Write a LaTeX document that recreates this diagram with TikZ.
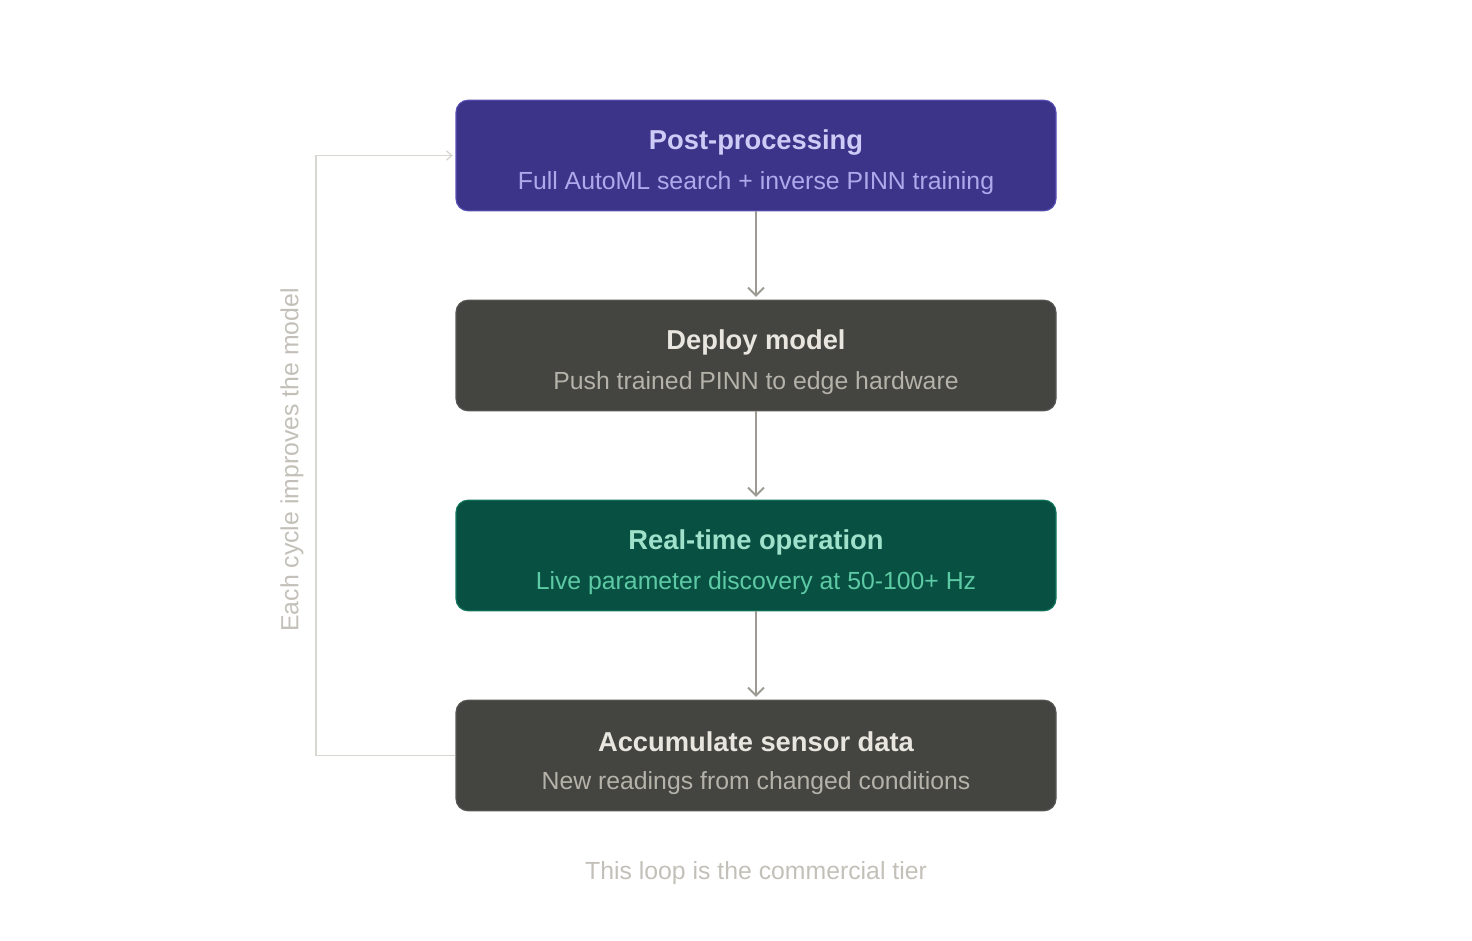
\documentclass[tikz,border=0pt]{standalone}
\usepackage{fontspec}
\setmainfont{Liberation Sans}
\usetikzlibrary{arrows.meta}
\definecolor{pfill}{HTML}{3C3489}
\definecolor{pdraw}{HTML}{5A52B8}
\definecolor{ptitle}{HTML}{CECBF6}
\definecolor{psub}{HTML}{AFA9EC}
\definecolor{dfill}{HTML}{444441}
\definecolor{ddraw}{HTML}{5A5955}
\definecolor{dtitle}{HTML}{E8E6DF}
\definecolor{dsub}{HTML}{B4B2A9}
\definecolor{gfill}{HTML}{085041}
\definecolor{gdraw}{HTML}{137A5F}
\definecolor{gtitle}{HTML}{9FE1CB}
\definecolor{gsub}{HTML}{5DCAA5}
\definecolor{arrowc}{HTML}{9C9A92}
\definecolor{loopc}{HTML}{D8D6D0}
\definecolor{notec}{HTML}{C2C0B8}
\tikzset{
  stagebox/.style={rounded corners=9pt, minimum width=450pt, minimum height=83pt, line width=0.8pt, inner sep=0pt},
  ttl/.style={font=\fontsize{20.5}{23}\selectfont\bfseries},
  sub/.style={font=\fontsize{18.6}{21}\selectfont},
  flow/.style={draw=arrowc, line width=1.5pt, -{Straight Barb[length=6pt,width=12pt,line width=1.5pt]}},
  loopline/.style={draw=loopc, line width=1.2pt, -{Straight Barb[length=4pt,width=7pt,line width=1pt]}},
}
\begin{document}
\begin{tikzpicture}[x=0.75pt,y=-0.75pt]
\useasboundingbox (0,0) rectangle (1472,940);
\node[stagebox, fill=pfill, draw=pdraw] (b1) at (756,155.5) {};
\node[stagebox, fill=dfill, draw=ddraw] (b2) at (756,355.5) {};
\node[stagebox, fill=gfill, draw=gdraw] (b3) at (756,555.5) {};
\node[stagebox, fill=dfill, draw=ddraw] (b4) at (756,755.5) {};
\node[ttl, text=ptitle] (t1) at (756,142) {Post-processing};
\node[sub, text=psub] (s1) at (756,183) {Full AutoML search + inverse PINN training};
\node[ttl, text=dtitle] (t2) at (756,342) {Deploy model};
\node[sub, text=dsub] (s2) at (756,383) {Push trained PINN to edge hardware};
\node[ttl, text=gtitle] (t3) at (756,542) {Real-time operation};
\node[sub, text=gsub] (s3) at (756,583) {Live parameter discovery at 50-100+ Hz};
\node[ttl, text=dtitle] (t4) at (756,742) {Accumulate sensor data};
\node[sub, text=dsub] (s4) at (756,783) {New readings from changed conditions};
\draw[flow] (b1.south) -- ([yshift=2pt]b2.north);
\draw[flow] (b2.south) -- ([yshift=2pt]b3.north);
\draw[flow] (b3.south) -- ([yshift=2pt]b4.north);
\coordinate (lb) at (316,755.5);
\coordinate (lt) at (316,155.5);
\draw[loopline] (b4.west) -- (lb) -- (lt) -- ([xshift=-2pt]b1.west);
\node[sub, text=notec, rotate=90] (side) at (292,460) {Each cycle improves the model};
\node[sub, text=notec] (note) at (756,873) {This loop is the commercial tier};
\end{tikzpicture}
\end{document}
